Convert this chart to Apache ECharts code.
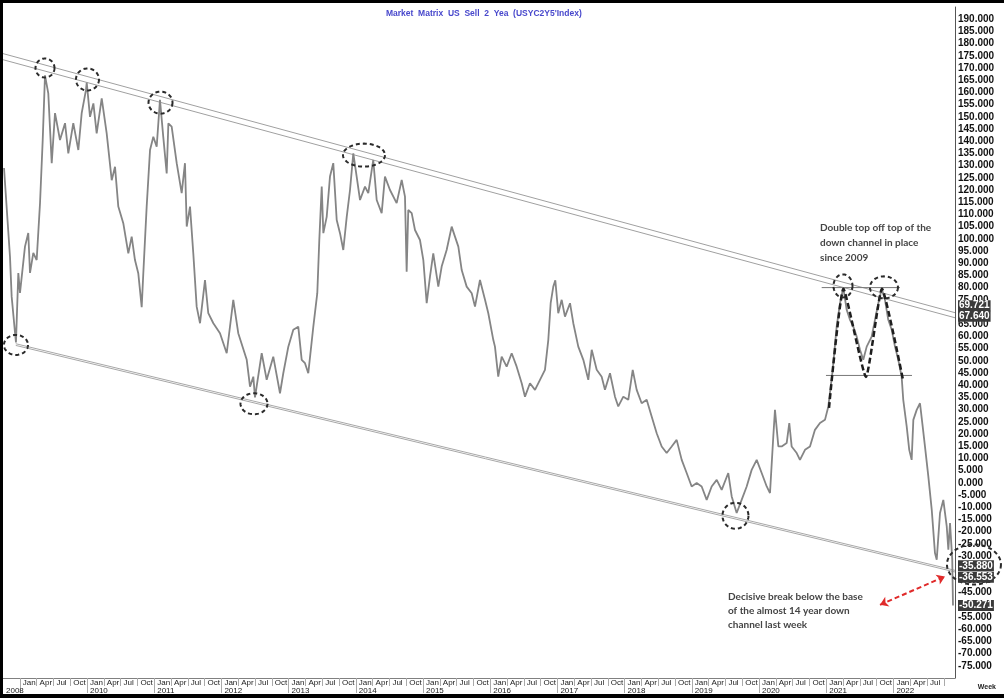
<!DOCTYPE html>
<html><head><meta charset="utf-8">
<script src="https://cdn.jsdelivr.net/npm/echarts@6/dist/echarts.min.js"></script>
<style>
html,body{margin:0;padding:0;background:#000;width:1004px;height:698px;overflow:hidden}
#c{position:absolute;left:3px;top:3px;width:1001px;height:691px;background:#fff}
</style></head><body><div id="c"></div>
<script>
// ---- data (decimal years / values) ----
const dates = [
 2008.765,2008.854,2008.879,2008.929,2008.943,2008.978,2009.003,2009.077,2009.126,2009.152,
 2009.201,2009.251,2009.301,2009.341,2009.375,2009.424,2009.475,2009.524,2009.598,2009.673,
 2009.722,2009.796,2009.871,2009.921,2009.985,2009.996,2010.045,2010.095,2010.144,2010.219,
 2010.293,2010.368,2010.417,2010.466,2010.540,2010.615,2010.665,2010.714,2010.763,2010.814,
 2010.838,2010.888,2010.938,2010.987,2011.037,2011.086,2011.135,2011.186,2011.211,2011.260,
 2011.335,2011.409,2011.458,2011.484,2011.533,2011.582,2011.632,2011.682,2011.756,2011.805,
 2011.880,2011.979,2012.079,2012.177,2012.251,2012.377,2012.426,2012.475,2012.500,2012.600,
 2012.674,2012.772,2012.872,2012.921,2012.996,2013.070,2013.144,2013.195,2013.244,2013.293,
 2013.368,2013.427,2013.457,2013.493,2013.517,2013.567,2013.616,2013.665,2013.716,2013.765,
 2013.814,2013.865,2013.914,2013.963,2014.013,2014.063,2014.137,2014.186,2014.260,2014.311,
 2014.385,2014.434,2014.509,2014.608,2014.683,2014.732,2014.757,2014.781,2014.832,2014.881,
 2014.955,2015.005,2015.055,2015.104,2015.153,2015.228,2015.278,2015.352,2015.427,2015.476,
 2015.526,2015.576,2015.650,2015.725,2015.774,2015.848,2015.923,2015.972,2016.046,2016.071,
 2016.120,2016.171,2016.245,2016.320,2016.394,2016.469,2016.518,2016.592,2016.667,2016.741,
 2016.815,2016.865,2016.900,2016.939,2016.969,2017.013,2017.064,2017.113,2017.188,2017.237,
 2017.311,2017.386,2017.460,2017.511,2017.585,2017.659,2017.708,2017.783,2017.857,2017.906,
 2017.981,2018.055,2018.121,2018.180,2018.254,2018.329,2018.403,2018.478,2018.552,2018.626,
 2018.701,2018.775,2018.850,2018.924,2018.998,2019.073,2019.147,2019.222,2019.296,2019.371,
 2019.445,2019.543,2019.594,2019.668,2019.742,2019.817,2019.891,2019.966,2020.040,2020.115,
 2020.164,2020.213,2020.238,2020.288,2020.338,2020.412,2020.451,2020.486,2020.561,2020.610,
 2020.685,2020.759,2020.833,2020.908,2020.982,2021.032,2021.097,2021.156,2021.206,2021.255,
 2021.305,2021.354,2021.404,2021.454,2021.503,2021.552,2021.603,2021.677,2021.726,2021.776,
 2021.826,2021.875,2021.924,2021.975,2022.024,2022.073,2022.123,2022.147,2022.198,2022.236,
 2022.272,2022.297,2022.347,2022.396,2022.436,2022.470,2022.520,2022.571,2022.619,2022.645,
 2022.694,2022.743,2022.794,2022.818,2022.843,2022.876,2022.887
];
const values = [
 129,92.7,76.3,61.4,57.5,86,77.8,96.8,102.4,86,
 94.2,91.3,114.7,140.5,167,159.6,131,151.5,140.5,147.4,
 135,147.4,136.4,151.5,161,164,150,155.5,143.2,157.6,
 143.2,124,129.5,113.2,106.4,94,100.9,91.3,85.9,72,
 85.9,113.2,136.4,141.8,137.7,157,141.8,126.8,147.3,146,
 131,118.7,131,105,113.2,94,72.2,65.4,83.1,69.5,
 65.4,61.3,53.1,75,61.3,50.4,39.4,43.5,35,53.1,
 42.2,51.7,36.7,44.9,55.8,62.7,64,50.4,49,44.9,
 64,77.7,99.5,121.4,102.3,109,125.5,131,107.7,102.3,
 95.4,109,120,135,125.5,115.9,121.4,118.7,132.3,115.9,
 110.5,125.5,120,114.6,124.1,117.3,86.5,111.8,110.5,103.6,
 99.5,91.3,73.6,84.5,94,80.4,88.6,95.4,105,100.9,
 96.8,87.2,80.4,77.7,72.2,83.1,75,69.5,58.6,55.8,
 43.5,51.7,47.6,53.1,47.6,40.8,35.3,40.8,38.1,42.2,
 46.3,58.6,73.6,80.4,83,69.5,75,68.1,73.6,65.4,
 55.8,50.4,42.2,54.5,46.3,43.5,38.1,44.9,35.3,31.3,
 35.3,34,46.3,38.1,32.6,34,27.2,20.3,14.9,12.2,
 14.9,17.6,9.4,4,-1.5,-0.1,-1.5,-7,-1.5,1.2,
 -2.9,4,-5.6,-12.4,-7,-1.5,5.3,9.4,4,-1.5,
 -4.2,19,29.9,14.9,14.9,16.3,24.5,14.9,12.2,9.4,
 13.5,14.9,21.7,24.5,25.8,31.3,46.3,64,73.6,80,
 70.9,66.8,64,59.9,54.5,50.4,55.8,59.9,66.8,73.6,
 79.5,75,66.8,62.7,55.8,50.4,43.5,34,23.1,13.5,
 9.4,25.8,29.9,32.6,23.1,14.9,2.6,-11.1,-28.8,-31.5,
 -12.4,-7,-17.9,-27.4,-16.5,-31.5,-50.271
];
const monthNames = ['Jan','Apr','Jul','Oct'];
const yearLabelPos = [2008.75,2010,2011,2012,2013,2014,2015,2016,2017,2018,2019,2020,2021,2022];
const yearLabels   = ['2008','2010','2011','2012','2013','2014','2015','2016','2017','2018','2019','2020','2021','2022'];
const priceTags    = [69.721, 67.640, -35.880, -36.553, -50.271];
// channel lines: [start year, start value, end value]
const upperChannelA = [2008.75, 175.9, 69.721];
const upperChannelB = [2008.75, 173.4, 67.640];
const lowerChannelA = [2008.94, 57.0, -35.880];
const lowerChannelB = [2008.94, 56.3, -36.553];
const topLine      = [2020.933, 2022.098, 80];
const neckLine     = [2020.997, 2022.277, 44];
const mShapeX = [2021.042, 2021.257, 2021.592, 2021.830, 2022.143];
const mShapeY = [30.7, 79.5, 43.4, 79.5, 42.2];
const arrowFrom = [2021.801, -50.0];
const arrowTo   = [2022.768, -38.4];
// circled turning points [year, value]
const circleCenters = [
 [2009.375,170.0],[2010.007,165.3],[2011.094,155.8],[2014.122,134.3],[2008.943,56.5],
 [2012.485,32.4],[2019.650,-13.5],[2021.250,80.7],[2021.860,80.1],[2023.199,-33.5]
];

// ---- chart ----
const X_MIN = 2008.75, X_MAX = 2022.917;
const quarterTicks = [];
for (let q = 2009; q <= 2022.75 + 1e-9; q += 0.25) quarterTicks.push(q);
const monthLabelVals = quarterTicks.filter(v => v <= 2022.5 + 1e-9);
const yearTicks = [];
for (let y = 2009; y <= 2022; y++) yearTicks.push(y);

const FONT = 'Liberation Sans Narrow, Liberation Sans, Arial, sans-serif';
const chart = echarts.init(document.getElementById('c'));
const seg = (a) => [[a[0], a[1]], [X_MAX, a[2]]];
const grayLine = (data, color, width) => ({
  type: 'line', data, symbol: 'none', silent: true, animation: false,
  lineStyle: { color, width }, z: 2
});

const option = {
  animation: false,
  backgroundColor: '#fff',
  title: {
    text: "Market  Matrix  US  Sell  2  Yea  (USYC2Y5'Index)",
    left: 378, top: 1,
    textStyle: { color: '#4848cc', fontSize: 8.5, fontWeight: 'bold', fontFamily: 'Liberation Sans, Arial' }
  },
  grid: { left: 0, right: 49, top: 4, bottom: 16, outerBoundsMode: 'none', containLabel: false },
  xAxis: [
    {
      type: 'value', min: X_MIN, max: X_MAX, position: 'bottom',
      axisLine: { show: true, onZero: false, lineStyle: { color: '#808080', width: 1 } },
      axisTick: { show: true, customValues: quarterTicks, length: 8, lineStyle: { color: '#aaa' } },
      axisLabel: {
        customValues: monthLabelVals, align: 'left', margin: 1, padding: [0, 0, 0, 3],
        fontSize: 8, color: '#222', fontFamily: FONT, hideOverlap: false,
        formatter: v => monthNames[Math.round((v - Math.floor(v)) * 4) % 4]
      },
      splitLine: { show: false }
    },
    {
      type: 'value', min: X_MIN, max: X_MAX, position: 'bottom', offset: 8,
      axisLine: { show: false, onZero: false },
      axisTick: { show: true, customValues: yearTicks, length: 7, lineStyle: { color: '#aaa' } },
      axisLabel: {
        customValues: yearLabelPos, align: 'left', margin: 1, padding: [0, 0, 0, 3],
        fontSize: 8, color: '#222', fontFamily: FONT, hideOverlap: false,
        formatter: v => { const i = yearLabelPos.findIndex(p => Math.abs(p - v) < 1e-6); return i >= 0 ? yearLabels[i] : ''; }
      },
      splitLine: { show: false }
    }
  ],
  yAxis: {
    type: 'value', position: 'right', min: -80, max: 195, interval: 5,
    axisLine: { show: true, onZero: false, lineStyle: { color: '#555' } },
    axisTick: { show: false },
    splitLine: { show: false },
    axisLabel: {
      margin: 3, fontSize: 10, fontWeight: 'bold', color: '#111', hideOverlap: false,
      fontFamily: 'Liberation Sans, Arial',
      formatter: v => (v >= -75 && v <= 190) ? v.toFixed(3) : ''
    }
  },
  series: [
    grayLine(seg(upperChannelA), '#a0a0a0', 1),
    grayLine(seg(upperChannelB), '#a0a0a0', 1),
    grayLine(seg(lowerChannelA), '#a8a8a8', 1),
    grayLine(seg(lowerChannelB), '#a8a8a8', 1),
    grayLine([[topLine[0], topLine[2]], [topLine[1], topLine[2]]], '#777', 1),
    grayLine([[neckLine[0], neckLine[2]], [neckLine[1], neckLine[2]]], '#777', 1),
    {
      name: 'USYC2Y5', type: 'line', symbol: 'none', z: 3,
      data: dates.map((d, i) => [d, values[i]]),
      lineStyle: { color: '#858585', width: 1.8 },
      markLine: {
        silent: true, symbol: ['arrow', 'arrow'], symbolSize: 8,
        label: { show: false },
        lineStyle: { color: '#e02a2a', type: [5, 3], width: 2 },
        data: [[{ coord: arrowFrom }, { coord: arrowTo }]]
      }
    },
    {
      type: 'line', symbol: 'none', z: 4, silent: true, smooth: 0.15,
      data: mShapeX.map((x, i) => [x, mShapeY[i]]),
      lineStyle: { color: '#1e1e1e', width: 2.5, type: [6, 3] }
    }
  ]
};
chart.setOption(option);

// ---- annotations positioned from data coordinates ----
const px = (p) => chart.convertToPixel({ xAxisIndex: 0, yAxisIndex: 0 }, p);
const circleRadii = [[9.5,9.5],[11.5,11],[12,11],[21,11.5],[12,10],[13.5,10.5],[13,13],[9.5,11.5],[14,11],[27,20]];
const graphics = [];
circleCenters.forEach((c, i) => {
  const [cx, cy] = px(c);
  const [rx, ry] = circleRadii[i];
  const pts = [];
  for (let k = 0; k < 72; k++) {
    const a = k / 72 * Math.PI * 2;
    pts.push([cx + rx * Math.cos(a), cy + ry * Math.sin(a)]);
  }
  graphics.push({
    type: 'polygon', silent: true, z: 20, shape: { points: pts },
    style: { fill: 'none', stroke: '#2a2a2a', lineWidth: 2, lineDash: [4, 3] }
  });
});
const gridRight = px([X_MAX, 0])[0];
const tagOffsets = [-7, -1.5, -4.5, 5.3, 0];
priceTags.forEach((v, i) => {
  const y = px([X_MAX, v])[1] + tagOffsets[i];
  graphics.push({
    type: 'text', silent: true, z: 30, x: gridRight + 3, y: y,
    style: {
      text: v.toFixed(3), fill: '#fff', backgroundColor: '#3a3a3a',
      padding: [1, 1, 0, 1], font: 'bold 10px "Liberation Sans", Arial',
      verticalAlign: 'middle', align: 'left'
    }
  });
});
const noteFont = 'bold 10px Lato, "Open Sans", sans-serif';
const n1 = px([2020.908, 107.7]);
graphics.push({
  type: 'text', silent: true, z: 30, x: n1[0], y: n1[1],
  style: { text: 'Double top off top of the\ndown channel in place\nsince 2009', fill: '#454545',
    font: noteFont, lineHeight: 15, verticalAlign: 'top', align: 'left' }
});
const n2 = px([2019.539, -43.8]);
graphics.push({
  type: 'text', silent: true, z: 30, x: n2[0], y: n2[1],
  style: { text: 'Decisive break below the base\nof the almost 14 year down\nchannel last week', fill: '#454545',
    font: noteFont, lineHeight: 14, verticalAlign: 'top', align: 'left' }
});
graphics.push({
  type: 'text', silent: true, right: 8, bottom: 3,
  style: { text: 'Week', fill: '#222', font: 'bold 7px "Liberation Sans", Arial' }
});
chart.setOption({ graphic: graphics });
</script></body></html>
